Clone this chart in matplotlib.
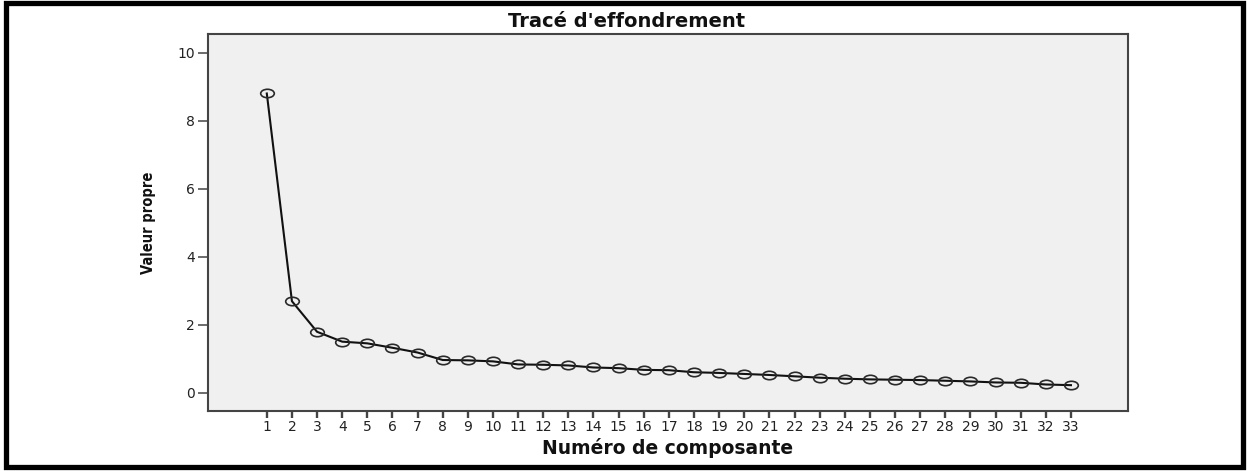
import numpy as np
import matplotlib
matplotlib.use("Agg")
import matplotlib.pyplot as plt
from matplotlib.path import Path
from matplotlib.patches import Rectangle
from matplotlib.transforms import Affine2D

# Eigenvalues of the extracted components (scree plot)
components = list(range(1, 34))
eigenvalues = [8.80, 2.69, 1.79, 1.50, 1.45, 1.32, 1.18, 0.96, 0.95, 0.92,
               0.83, 0.82, 0.80, 0.74, 0.72, 0.67, 0.66, 0.60, 0.58, 0.55,
               0.52, 0.48, 0.44, 0.41, 0.39, 0.38, 0.37, 0.35, 0.33, 0.30,
               0.29, 0.24, 0.22]
y_ticks = [0, 2, 4, 6, 8, 10]

title_text = "Tracé d'effondrement"
x_label = "Numéro de composante"
y_label = "Valeur propre"

W, H = 1247, 471
fig = plt.figure(figsize=(W / 100, H / 100), dpi=100)
fig.patch.set_facecolor("white")

# Outer black frame
fig.add_artist(Rectangle((6 / W, 1 - 467 / H), (1243 - 6) / W, (467 - 3) / H,
                         transform=fig.transFigure, fill=False,
                         edgecolor="black", linewidth=3.8, zorder=10))

ax = fig.add_axes([208 / W, 1 - 411 / H, (1128 - 208) / W, (411 - 34) / H])
ax.set_facecolor("#f0f0f0")

# Slightly flattened open-circle marker
circ = Path.unit_circle()
ellipse = Path(Affine2D().scale(1.0, 0.62).transform(circ.vertices), circ.codes)

ax.plot(components, eigenvalues, color="#111111", linewidth=1.5,
        marker=ellipse, markersize=9.8, markerfacecolor="none",
        markeredgecolor="#2a2a2a", markeredgewidth=1.2, zorder=3)

ax.set_xlim(-1.34, 35.27)
ax.set_ylim(-0.54, 10.55)
ax.set_xticks(components)
ax.set_xticklabels([str(c) for c in components])
ax.set_yticks(y_ticks)
ax.set_yticklabels([str(v) for v in y_ticks])

for side in ["left", "bottom", "top", "right"]:
    ax.spines[side].set_color("#444444")
    ax.spines[side].set_linewidth(1.5)

ax.tick_params(axis="y", direction="out", length=7.5, width=1.1,
               color="#444444", labelcolor="#222222", labelsize=10, pad=2)
ax.tick_params(axis="x", direction="out", length=5, width=1.7,
               color="#444444", labelcolor="#222222", labelsize=10, pad=1.5)
for lab in ax.get_xticklabels() + ax.get_yticklabels():
    lab.set_family("DejaVu Sans")

fig.text(627 / W, 1 - 21.5 / H, title_text, ha="center", va="center",
         fontsize=14, fontweight="bold", family="DejaVu Sans", color="#111111")
fig.text(668 / W, 1 - 448 / H, x_label, ha="center", va="center",
         fontsize=13.5, fontweight="bold", family="DejaVu Sans", color="#111111")
fig.text(148 / W, 1 - 223 / H, y_label, ha="center", va="center", rotation=90,
         fontsize=10.5, fontweight="bold", fontstretch="condensed",
         family="DejaVu Sans", color="#111111")

fig.savefig("out.png", dpi=100, facecolor="white")
